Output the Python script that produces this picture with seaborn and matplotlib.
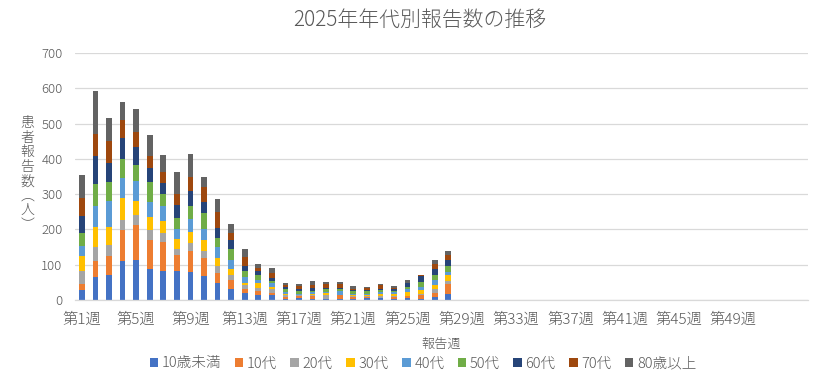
import matplotlib
matplotlib.use("Agg")
import matplotlib.pyplot as plt
import pandas as pd
import seaborn as sns
from matplotlib.patches import Patch

# ---- data ----
weeks_all = [f"第{i}週" for i in range(1, 55)]
age_groups = ["10歳未満", "10代", "20代", "30代", "40代", "50代", "60代", "70代", "80歳以上"]
colors = ["#4472C4", "#ED7D31", "#A5A5A5", "#FFC000", "#5B9BD5",
          "#70AD47", "#264478", "#9E480E", "#636363"]

u10 = [27, 64, 71, 111, 114, 89, 83, 81, 78, 67, 47, 30, 20, 14, 14, 3, 5, 4, 2, 2, 3, 6, 6, 3, 6, 4, 9, 17]
a10 = [17, 46, 55, 86, 98, 81, 80, 46, 60, 51, 29, 26, 10, 11, 6, 6, 5, 6, 2, 11, 6, 3, 1, 6, 4, 9, 11, 29]
a20 = [37, 40, 31, 29, 29, 28, 27, 17, 23, 20, 20, 14, 12, 10, 10, 4, 3, 4, 10, 1, 3, 3, 5, 3, 2, 4, 11, 9]
a30 = [43, 57, 51, 64, 40, 38, 34, 29, 31, 31, 23, 17, 7, 12, 8, 4, 2, 3, 5, 1, 3, 3, 5, 5, 11, 12, 11, 15]
a40 = [29, 58, 73, 56, 57, 43, 43, 29, 37, 31, 31, 25, 15, 11, 10, 6, 3, 7, 3, 10, 3, 3, 5, 5, 7, 9, 16, 10]
a50 = [37, 64, 52, 55, 46, 54, 33, 29, 37, 46, 26, 32, 19, 14, 6, 7, 8, 2, 10, 6, 8, 8, 6, 3, 8, 14, 12, 17]
a60 = [49, 80, 54, 57, 51, 40, 32, 37, 43, 31, 29, 26, 14, 9, 8, 7, 5, 9, 3, 3, 3, 2, 3, 5, 9, 15, 17, 17]
a70 = [50, 61, 64, 51, 41, 34, 31, 33, 40, 43, 43, 21, 24, 10, 14, 6, 9, 8, 10, 12, 3, 6, 11, 3, 2, 3, 14, 14]
o80 = [64, 122, 64, 51, 64, 62, 49, 63, 65, 30, 37, 25, 23, 10, 15, 6, 4, 12, 6, 5, 8, 3, 4, 7, 8, 1, 11, 11]
series = [u10, a10, a20, a30, a40, a50, a60, a70, o80]

yticks = [0, 100, 200, 300, 400, 500, 600, 700]

# ---- table ----
n = len(u10)
df = pd.DataFrame({"week": weeks_all[:n]})
for g, s in zip(age_groups, series):
    df[g] = s
cum = df[age_groups].cumsum(axis=1)

sns.set_theme(style="white")
plt.rcParams['font.family'] = ['Noto Sans CJK JP', 'DejaVu Sans']
plt.rcParams['font.weight'] = 'light'
txt = "#595959"

fig = plt.figure(figsize=(8.4, 3.79), dpi=100)
ax = fig.add_axes([75/840, 79/379, 733/840, 247/379])

for g, c in reversed(list(zip(age_groups, colors))):
    sns.barplot(x=df["week"], y=cum[g], order=weeks_all, color=c, width=0.42,
                errorbar=None, linewidth=0, saturation=1, ax=ax)

ax.set_ylim(0, 700)
ax.set_yticks(yticks)
ax.set_xticks(range(0, 49, 4))
ax.set_xticklabels(weeks_all[0:49:4])
ax.set_xlabel("")
ax.set_ylabel("")
ax.set_axisbelow(True)
ax.yaxis.grid(True, color="#d9d9d9", linewidth=0.9)
ax.xaxis.grid(False)
for s in ["top", "right", "left"]:
    ax.spines[s].set_visible(False)
ax.spines["bottom"].set_color("#d9d9d9")
ax.spines["bottom"].set_linewidth(0.9)
ax.tick_params(axis="y", length=0, labelsize=9.5, colors=txt, pad=9)
ax.tick_params(axis="x", length=0, labelsize=11, colors=txt, pad=9)

fig.text(0.5, 1 - 20/379, "2025年年代別報告数の推移", ha="center", va="center",
         fontsize=15, color=txt)
fig.text(441.5/840, 1 - 344/379, "報告週", ha="center", va="center",
         fontsize=9.5, color=txt)
fig.text(27.5/840, 1 - 174/379, "患\n者\n報\n告\n数\n︵\n人\n︶", ha="center", va="center",
         fontsize=10, color=txt, linespacing=1.05)

handles = [Patch(facecolor=c, edgecolor="none", label=g) for g, c in zip(age_groups, colors)]
leg = fig.legend(handles=handles, loc="center", bbox_to_anchor=(423/840, 1 - 363.5/379),
                 ncol=9, frameon=False, fontsize=10.5, handlelength=0.6, handleheight=0.6,
                 handletextpad=0.25, columnspacing=0.9, borderaxespad=0, borderpad=0)
for t in leg.get_texts():
    t.set_color(txt)

fig.savefig("out.png", dpi=100)
